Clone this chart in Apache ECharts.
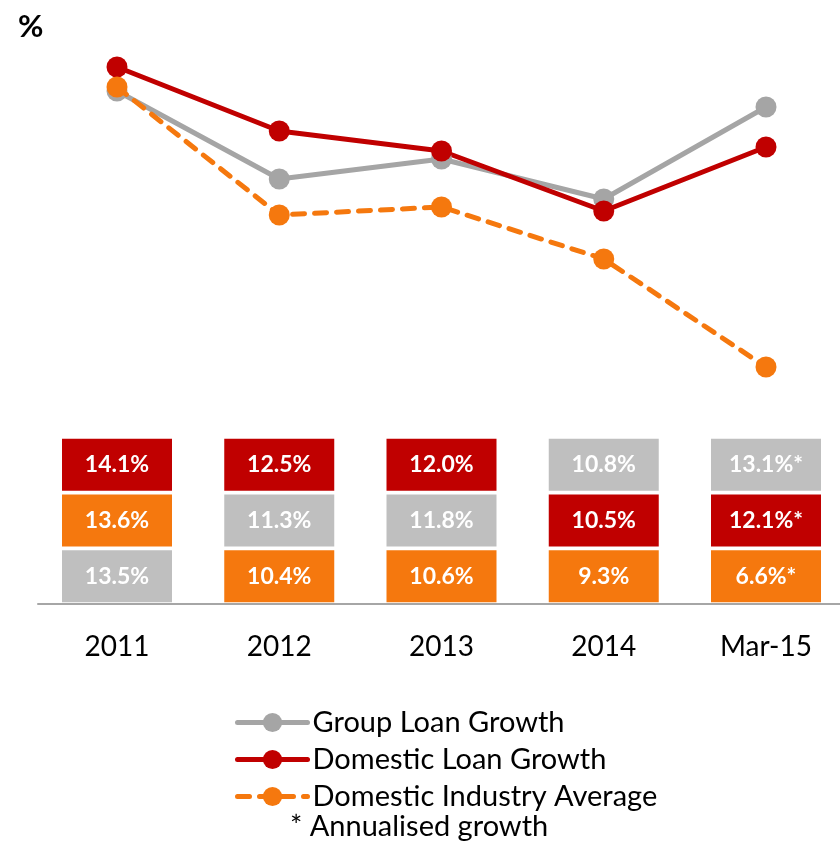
<!DOCTYPE html>
<html>
<head>
<meta charset="utf-8">
<script src="https://cdn.jsdelivr.net/npm/echarts@6/dist/echarts.min.js"></script>
<style>
  html, body { margin: 0; padding: 0; background: #fff; }
</style>
</head>
<body>
<div id="mainChart" style="width: 840px; height: 843px"></div>
<script>
var categories = ["2011", "2012", "2013", "2014", "Mar-15"];
var groupLoan = [13.5, 11.3, 11.8, 10.8, 13.1];
var domesticLoan = [14.1, 12.5, 12.0, 10.5, 12.1];
var industryAvg = [13.6, 10.4, 10.6, 9.3, 6.6];
var annualised = [false, false, false, false, true];
var rowNames = ["top", "middle", "bottom"];

var FONT = "Lato, 'Open Sans', sans-serif";

var seriesInfo = [
  { name: "Group Loan Growth", data: groupLoan, line: "#a5a5a5", cell: "#bfbfbf", dashed: false },
  { name: "Domestic Loan Growth", data: domesticLoan, line: "#c00000", cell: "#c00000", dashed: false },
  { name: "Domestic Industry Average", data: industryAvg, line: "#f5780e", cell: "#f5780e", dashed: true }
];

// table cells: for each period, the three values sorted high to low
var cells = [];
categories.forEach(function (cat, i) {
  var col = seriesInfo.map(function (s) {
    return { v: s.data[i], color: s.cell };
  });
  col.sort(function (a, b) { return b.v - a.v; });
  col.forEach(function (c, r) {
    cells.push({
      value: [cat, rowNames[r], c.v],
      star: annualised[i],
      itemStyle: { color: c.color, opacity: 1 }
    });
  });
});

var chart = echarts.init(document.getElementById("mainChart"));

var lineSeries = seriesInfo.map(function (s) {
  return {
    name: s.name,
    type: "line",
    xAxisIndex: 0,
    yAxisIndex: 0,
    data: s.data,
    symbol: "circle",
    symbolSize: 21,
    color: s.line,
    lineStyle: {
      color: s.line,
      width: 5,
      type: s.dashed ? [12, 10] : "solid",
      cap: "round"
    },
    itemStyle: { color: s.line },
    z: s.dashed ? 3 : 2,
    animation: false
  };
});

var option = {
  title: {
    text: "%",
    left: 13,
    top: 6,
    textStyle: { fontFamily: FONT, fontSize: 31, fontWeight: "bold", color: "#000" }
  },
  grid: [
    { left: 117, width: 649, top: 31, height: 400 },
    { left: 117, width: 649, top: 437, height: 167 },
    { left: 38, right: 0, top: 437, height: 167 }
  ],
  xAxis: [
    {
      gridIndex: 0,
      type: "category",
      boundaryGap: false,
      data: categories,
      show: false
    },
    {
      gridIndex: 1,
      type: "category",
      boundaryGap: false,
      data: categories,
      axisLine: { show: false },
      axisTick: { show: false },
      axisLabel: { margin: 29, fontFamily: FONT, fontSize: 28, color: "#000" }
    },
    {
      gridIndex: 2,
      type: "value",
      min: 0,
      max: 1,
      splitLine: { show: false },
      axisTick: { show: false },
      axisLabel: { show: false },
      axisLine: { show: true, lineStyle: { color: "#a6a6a6", width: 2 } }
    }
  ],
  yAxis: [
    { gridIndex: 0, type: "value", min: 5, max: 15, show: false },
    { gridIndex: 1, type: "category", data: rowNames, inverse: true, show: false },
    { gridIndex: 2, type: "value", show: false }
  ],
  legend: {
    orient: "vertical",
    left: 230,
    top: 702,
    itemWidth: 70,
    itemHeight: 24,
    itemGap: 6,
    data: seriesInfo.map(function (s) { return s.name; }),
    lineStyle: { width: 5, cap: "round" },
    textStyle: { fontFamily: FONT, fontSize: 29, color: "#000", lineHeight: 31 }
  },
  graphic: [
    {
      type: "text",
      left: 290,
      top: 812,
      style: { text: "* Annualised growth", font: "29px " + FONT, fill: "#000" }
    }
  ],
  series: lineSeries.concat([
    {
      type: "scatter",
      xAxisIndex: 1,
      yAxisIndex: 1,
      symbol: "rect",
      symbolSize: [110, 52],
      data: cells,
      label: {
        show: true,
        position: "inside",
        color: "#fff",
        fontFamily: FONT,
        fontWeight: "bold",
        fontSize: 23,
        formatter: function (p) {
          return p.data.value[2].toFixed(1) + "%" + (p.data.star ? "*" : "");
        }
      },
      emphasis: { disabled: true },
      animation: false
    }
  ])
};
chart.setOption(option);
</script>
</body>
</html>
